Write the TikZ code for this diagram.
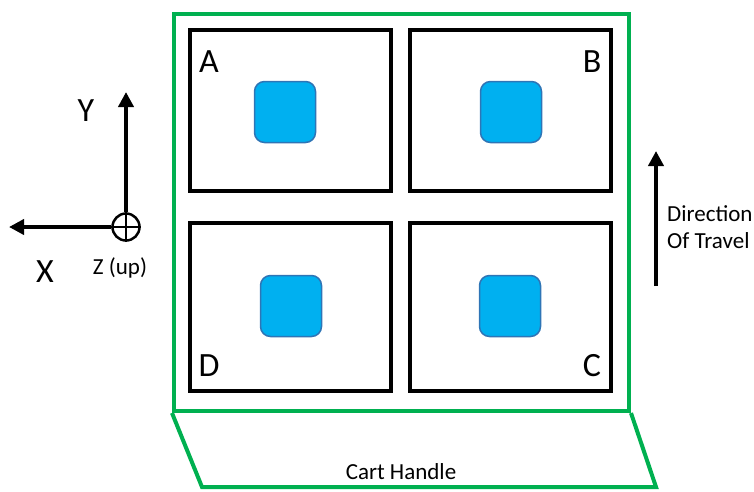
\documentclass[tikz,border=0pt]{standalone}
\usepackage{fontspec}
\setmainfont{Carlito}
\usetikzlibrary{arrows.meta}
\definecolor{cartgreen}{RGB}{0,176,80}
\definecolor{sensorfill}{RGB}{0,176,240}
\definecolor{sensorline}{RGB}{46,117,182}
\begin{document}
\begin{tikzpicture}[x=1pt,y=-1pt,
  bay/.style={draw=black,line width=4.5pt,rectangle,minimum width=201pt,minimum height=#1,inner sep=0pt},
  sensor/.style={draw=sensorline,line width=1.5pt,fill=sensorfill,rounded corners=10pt,minimum size=61pt,inner sep=0pt},
  corner/.style={font=\fontsize{34}{34}\selectfont,inner sep=0pt},
  axlabel/.style={font=\fontsize{34}{34}\selectfont,inner sep=0pt},
  smalltext/.style={font=\fontsize{23}{27}\selectfont,inner sep=0pt},
  bigarrow/.style={line width=4pt,-{Triangle[length=15pt,width=15pt]}},
  cartline/.style={draw=cartgreen,line width=4pt}]
\useasboundingbox (0,0) rectangle (754,491);
% cart frame
\node[cartline,rectangle,minimum width=455pt,minimum height=397pt,inner sep=0pt] (cart) at (401.5,212.5) {};
\coordinate (h1) at (202,487);
\coordinate (h2) at (656,487);
\draw[cartline,line join=miter] (cart.south west) -- (h1) -- (h2) -- (cart.south east);
\node[smalltext] (handle) at (401,472) {Cart Handle};
% bays
\node[bay=161pt] (bayA) at (290.5,110.5) {};
\node[bay=161pt] (bayB) at (510.5,110.5) {};
\node[bay=168pt] (bayD) at (290.5,307) {};
\node[bay=168pt] (bayC) at (510.5,307) {};
% sensors
\node[sensor] (sA) at (285,112) {};
\node[sensor] (sB) at (511,112) {};
\node[sensor] (sD) at (291,306) {};
\node[sensor] (sC) at (510,306) {};
% labels
\node[corner] (lA) at (209,62) {A};
\node[corner] (lB) at (592,62) {B};
\node[corner] (lD) at (209,366) {D};
\node[corner] (lC) at (592,366) {C};
% axes
\node[draw=black,line width=2.5pt,circle,minimum size=27pt,inner sep=0pt] (orig) at (126,227) {};
\draw[black,line width=2pt] (orig.north) -- (orig.south) (orig.west) -- (orig.east);
\coordinate (ytip) at (126,92);
\coordinate (xtip) at (9,227);
\draw[bigarrow] (orig.north) -- (ytip);
\draw[bigarrow] (orig.west) -- (xtip);
\node[axlabel] (ly) at (86,111) {Y};
\node[axlabel] (lx) at (45,272) {X};
\node[smalltext] (lz) at (120,268) {Z (up)};
% direction of travel
\coordinate (d0) at (656,286);
\coordinate (d1) at (656,151);
\draw[bigarrow] (d0) -- (d1);
\node[smalltext,align=left,anchor=west] (dir) at (667,227) {Direction\\Of Travel};
\end{tikzpicture}
\end{document}
